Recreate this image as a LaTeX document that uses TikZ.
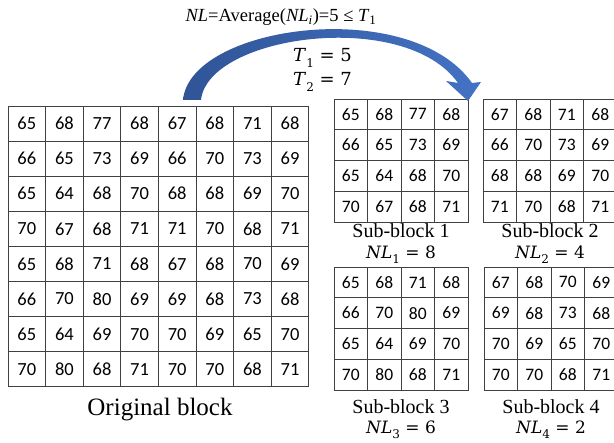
\documentclass[tikz,border=0pt]{standalone}
\usepackage{fontspec}
\setmainfont{Liberation Serif}
\newfontfamily\cellfont{Carlito}
\newfontfamily\eqfont{DejaVu Serif}
\usepackage{tikz}
\usetikzlibrary{positioning}
\definecolor{gridgray}{HTML}{404040}
\definecolor{arrowdark}{HTML}{2F5597}
\definecolor{arrowlight}{HTML}{4472C4}
\newcommand{\eqsub}[2]{\textit{#1}\raisebox{-0.3em}{\fontsize{12}{12}\selectfont #2}}
\tikzset{
  bigcell/.style={draw=gridgray, line width=0.9pt, minimum width=37.6pt, minimum height=35.1pt, inner sep=0pt, font=\cellfont\fontsize{18.5}{20}\selectfont},
  smallcell/.style={draw=gridgray, line width=0.9pt, minimum width=33.5pt, minimum height=30.75pt, inner sep=0pt, font=\cellfont\fontsize{17.5}{19}\selectfont},
  caption/.style={inner sep=0pt, font=\fontsize{25}{28}\selectfont},
  sublabel/.style={inner sep=0pt, font=\fontsize{20}{22}\selectfont},
  eqlabel/.style={inner sep=0pt, font=\eqfont\fontsize{17}{20}\selectfont},
  toplabel/.style={inner sep=0pt, font=\fontsize{18.5}{22}\selectfont},
  bluearrow/.style={left color=arrowdark, right color=arrowlight, draw=none}
}
% one 4x4 sub-block: name, left x, top y, rows
\newcommand{\subblock}[4]{%
  \foreach \vals [count=\r] in {#4}{
    \foreach \v [count=\c] in \vals{
      \node[smallcell] (#1-\r-\c) at ({#2+33.5*(\c-0.5)},{#3+30.75*(\r-0.5)}) {\v};
    }
  }
}

\begin{document}
\begin{tikzpicture}[x=1pt, y=-1pt]
  \useasboundingbox (0,0) rectangle (614,443);
  % original 8x8 block
  \foreach \vals [count=\r] in {{65,68,77,68,67,68,71,68},{66,65,73,69,66,70,73,69},{65,64,68,70,68,68,69,70},{70,67,68,71,71,70,68,71},{65,68,71,68,67,68,70,69},{66,70,80,69,69,68,73,68},{65,64,69,70,70,69,65,70},{70,80,68,71,70,70,68,71}}{
    \foreach \v [count=\c] in \vals{
      \node[bigcell] (o-\r-\c) at ({8+37.6*(\c-0.5)},{106+35.1*(\r-0.5)}) {\v};
    }
  }
  \node[caption] (orig) at (160,410) {Original block};
  % sub-blocks
  \subblock{s1}{334}{99}{{65,68,77,68},{66,65,73,69},{65,64,68,70},{70,67,68,71}}
  \subblock{s2}{483}{99}{{67,68,71,68},{66,70,73,69},{68,68,69,70},{71,70,68,71}}
  \subblock{s3}{334}{267}{{65,68,71,68},{66,70,80,69},{65,64,69,70},{70,80,68,71}}
  \subblock{s4}{484}{267}{{67,68,70,69},{69,68,73,68},{70,69,65,70},{70,70,68,71}}
  \node[sublabel] (lab1) at (401,231) {Sub-block 1};
  \node[eqlabel] (nl1) at (401,255) {\eqsub{NL}{1} = 8};
  \node[sublabel] (lab2) at (550,231) {Sub-block 2};
  \node[eqlabel] (nl2) at (550,255) {\eqsub{NL}{2} = 4};
  \node[sublabel] (lab3) at (401,407) {Sub-block 3};
  \node[eqlabel] (nl3) at (401,430) {\eqsub{NL}{3} = 6};
  \node[sublabel] (lab4) at (551,407) {Sub-block 4};
  \node[eqlabel] (nl4) at (551,430) {\eqsub{NL}{4} = 2};
  % curved block arrow
  \shade[bluearrow] (183,100) .. controls (190,25) and (410,-5) .. (472,83)
    -- (481,82) -- (468,101) -- (446,81) -- (458,83)
    .. controls (405,8) and (208,35) .. (201,100) -- cycle;
  \node[toplabel] (avg) at (281,17) {\textit{NL}=Average(\textit{NL}\textsubscript{\textit{i}})=5 ≤ \textit{T}\textsubscript{1}};
  \node[eqlabel, anchor=west, font=\eqfont\fontsize{18}{20}\selectfont] (t1) at (293,58) {\eqsub{T}{1} = 5};
  \node[eqlabel, anchor=west, font=\eqfont\fontsize{18}{20}\selectfont] (t2) at (293,82) {\eqsub{T}{2} = 7};
\end{tikzpicture}
\end{document}
